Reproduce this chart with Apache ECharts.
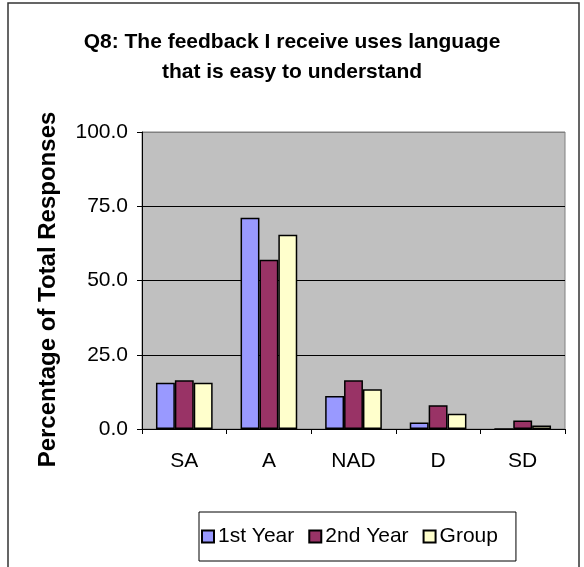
<!DOCTYPE html>
<html>
<head>
<meta charset="utf-8">
<script src="https://cdn.jsdelivr.net/npm/echarts@6/dist/echarts.min.js"></script>
<style>
  html, body { margin: 0; padding: 0; background: #fff; }
  #chart { width: 584px; height: 567px; }
</style>
</head>
<body>
<div id="chart"></div>
<script>
// Response categories and percentage of responses per cohort
const categories = ['SA', 'A', 'NAD', 'D', 'SD'];
const firstYear = [15.6, 71.1, 11.1, 2.2, 0];
const secondYear = [16.4, 57.0, 16.4, 8.0, 2.9];
const groupAll = [15.6, 65.4, 13.4, 5.1, 1.2];
const yTicks = [0, 25, 50, 75, 100];

const seriesNames = ['1st Year', '2nd Year', 'Group'];
const seriesColors = ['#9999FF', '#993366', '#FFFFCC'];
const seriesData = [firstYear, secondYear, groupAll];

const chart = echarts.init(document.getElementById('chart'), null, { renderer: 'canvas' });

const font = 'Liberation Sans, Arial, sans-serif';

chart.setOption({
  animation: false,
  backgroundColor: '#ffffff',
  textStyle: { fontFamily: font, color: '#000' },
  title: {
    text: 'Q8: The feedback I receive uses language\nthat is easy to understand',
    left: 'center',
    top: 22,
    textStyle: { fontSize: 21, fontWeight: 'bold', color: '#000', lineHeight: 30, fontFamily: font }
  },
  graphic: [{
    type: 'rect',
    shape: { x: 8, y: 3, width: 571, height: 600 },
    style: { fill: 'none', stroke: '#333', lineWidth: 1.5 },
    silent: true
  }],
  legend: {
    data: seriesNames,
    left: 199,
    top: 512,
    itemWidth: 12,
    itemHeight: 12,
    itemGap: 14,
    padding: [14, 18, 14, 2],
    borderColor: '#000',
    borderWidth: 1,
    icon: 'rect',
    textStyle: { fontSize: 21, color: '#000', fontFamily: font, padding: [0, 0, 0, -1] }
  },
  grid: {
    left: 142,
    top: 132,
    right: 19,
    bottom: 138,
    show: true,
    backgroundColor: '#C0C0C0',
    borderColor: '#808080',
    borderWidth: 1
  },
  xAxis: {
    type: 'category',
    data: categories,
    axisLine: { lineStyle: { color: '#000', width: 1 } },
    axisTick: { show: true, alignWithLabel: false, length: 5, lineStyle: { color: '#000' } },
    axisLabel: { fontSize: 21, color: '#000', margin: 22, fontFamily: font }
  },
  yAxis: {
    type: 'value',
    min: yTicks[0],
    max: yTicks[yTicks.length - 1],
    interval: yTicks[1] - yTicks[0],
    name: 'Percentage of Total Responses',
    nameLocation: 'middle',
    nameGap: 82,
    nameTextStyle: { fontSize: 24, fontWeight: 'bold', color: '#000', fontFamily: font,
      padding: [0, 18, 0, 0] },
    axisLine: { show: true, lineStyle: { color: '#000', width: 1 } },
    axisTick: { show: true, length: 5, lineStyle: { color: '#000' } },
    axisLabel: { fontSize: 21, color: '#000', margin: 14, fontFamily: font,
      formatter: v => v.toFixed(1) },
    splitLine: { show: true, lineStyle: { color: ['#808080', '#000', '#000', '#000', '#808080'], width: 1 } }
  },
  series: seriesNames.map((name, i) => ({
    name: name,
    type: 'bar',
    data: seriesData[i],
    barGap: '0%',
    barCategoryGap: '33%',
    itemStyle: { color: seriesColors[i], borderColor: '#000', borderWidth: 1.5 }
  }))
});
</script>
</body>
</html>
